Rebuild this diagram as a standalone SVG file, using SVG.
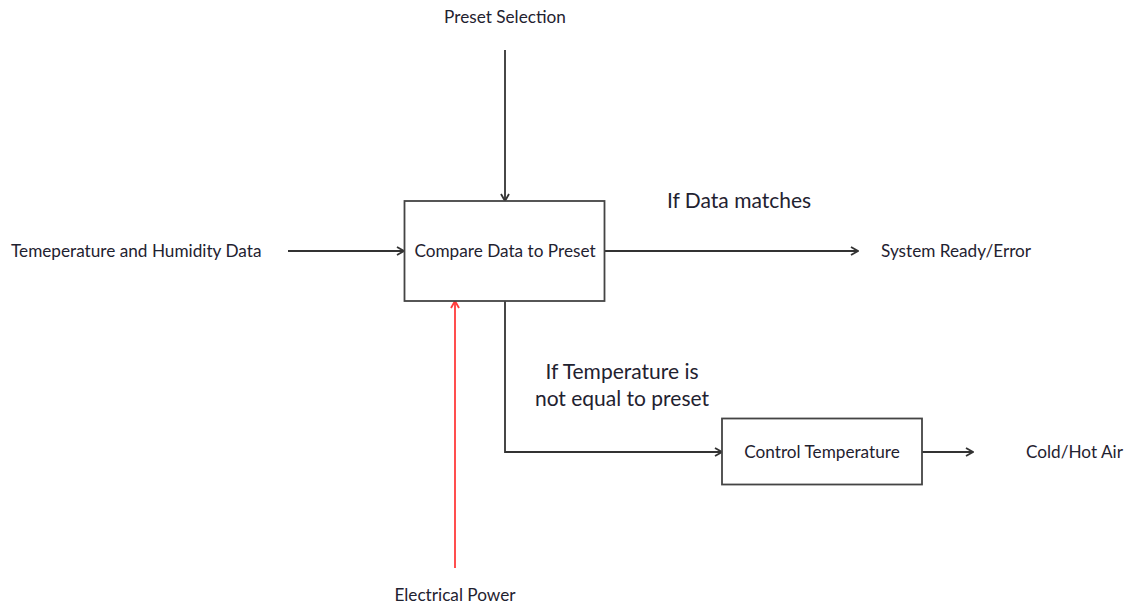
<svg xmlns="http://www.w3.org/2000/svg" width="1130" height="608" viewBox="0 0 1130 608">
  <defs>
    <marker id="arrow" viewBox="0 0 10 10" refX="9" refY="5" markerWidth="10" markerHeight="10" markerUnits="userSpaceOnUse" orient="auto">
      <path d="M2,1 L9,5 L2,9" fill="none" stroke="#333" stroke-width="1.8"/>
    </marker>
    <marker id="arrow-red" viewBox="0 0 10 10" refX="9" refY="5" markerWidth="10" markerHeight="10" markerUnits="userSpaceOnUse" orient="auto">
      <path d="M2,1 L9,5 L2,9" fill="none" stroke="#ff3b3b" stroke-width="1.8"/>
    </marker>
    <style>
      .box { fill: #ffffff; stroke: #444; stroke-width: 1.8; }
      .line { fill: none; stroke: #333; stroke-width: 1.8; }
      .red { fill: none; stroke: #ff3b3b; stroke-width: 1.8; }
      text { font-family: Lato, "Liberation Sans", sans-serif; fill: #1f2230; }
      .lbl { font-size: 17.2px; }
      .cond { font-size: 21px; }
    </style>
  </defs>
  <rect width="1130" height="608" fill="#ffffff"/>

  <g id="connectors">
    <line class="line" x1="505" y1="50" x2="505" y2="201" marker-end="url(#arrow)"/>
    <line class="line" x1="288" y1="251" x2="404" y2="251" marker-end="url(#arrow)"/>
    <line class="line" x1="605" y1="251" x2="858" y2="251" marker-end="url(#arrow)"/>
    <line class="red" x1="455" y1="568" x2="455" y2="301" marker-end="url(#arrow-red)"/>
    <polyline class="line" points="505,301 505,452 722,452" marker-end="url(#arrow)"/>
    <line class="line" x1="922" y1="452" x2="973" y2="452" marker-end="url(#arrow)"/>
  </g>

  <g id="compare">
    <rect class="box" x="404.5" y="201" width="200" height="100"/>
    <text class="lbl" x="505" y="257" text-anchor="middle">Compare Data to Preset</text>
  </g>

  <g id="control">
    <rect class="box" x="722" y="418.5" width="200" height="66"/>
    <text class="lbl" x="822" y="458" text-anchor="middle">Control Temperature</text>
  </g>

  <g id="preset-selection">
    <text class="lbl" x="505" y="23" text-anchor="middle">Preset Selection</text>
  </g>
  <g id="sensor-data">
    <text class="lbl" x="11" y="257">Temeperature and Humidity Data</text>
  </g>
  <g id="system-ready">
    <text class="lbl" x="881" y="257">System Ready/Error</text>
  </g>
  <g id="cold-hot-air">
    <text class="lbl" x="1026" y="458">Cold/Hot Air</text>
  </g>
  <g id="electrical-power">
    <text class="lbl" x="455" y="601" text-anchor="middle">Electrical Power</text>
  </g>

  <g id="conditions">
    <text class="cond" x="739" y="208" text-anchor="middle">If Data matches</text>
    <text class="cond" x="622" y="379" text-anchor="middle">If Temperature is</text>
    <text class="cond" x="622" y="406" text-anchor="middle">not equal to preset</text>
  </g>
</svg>
